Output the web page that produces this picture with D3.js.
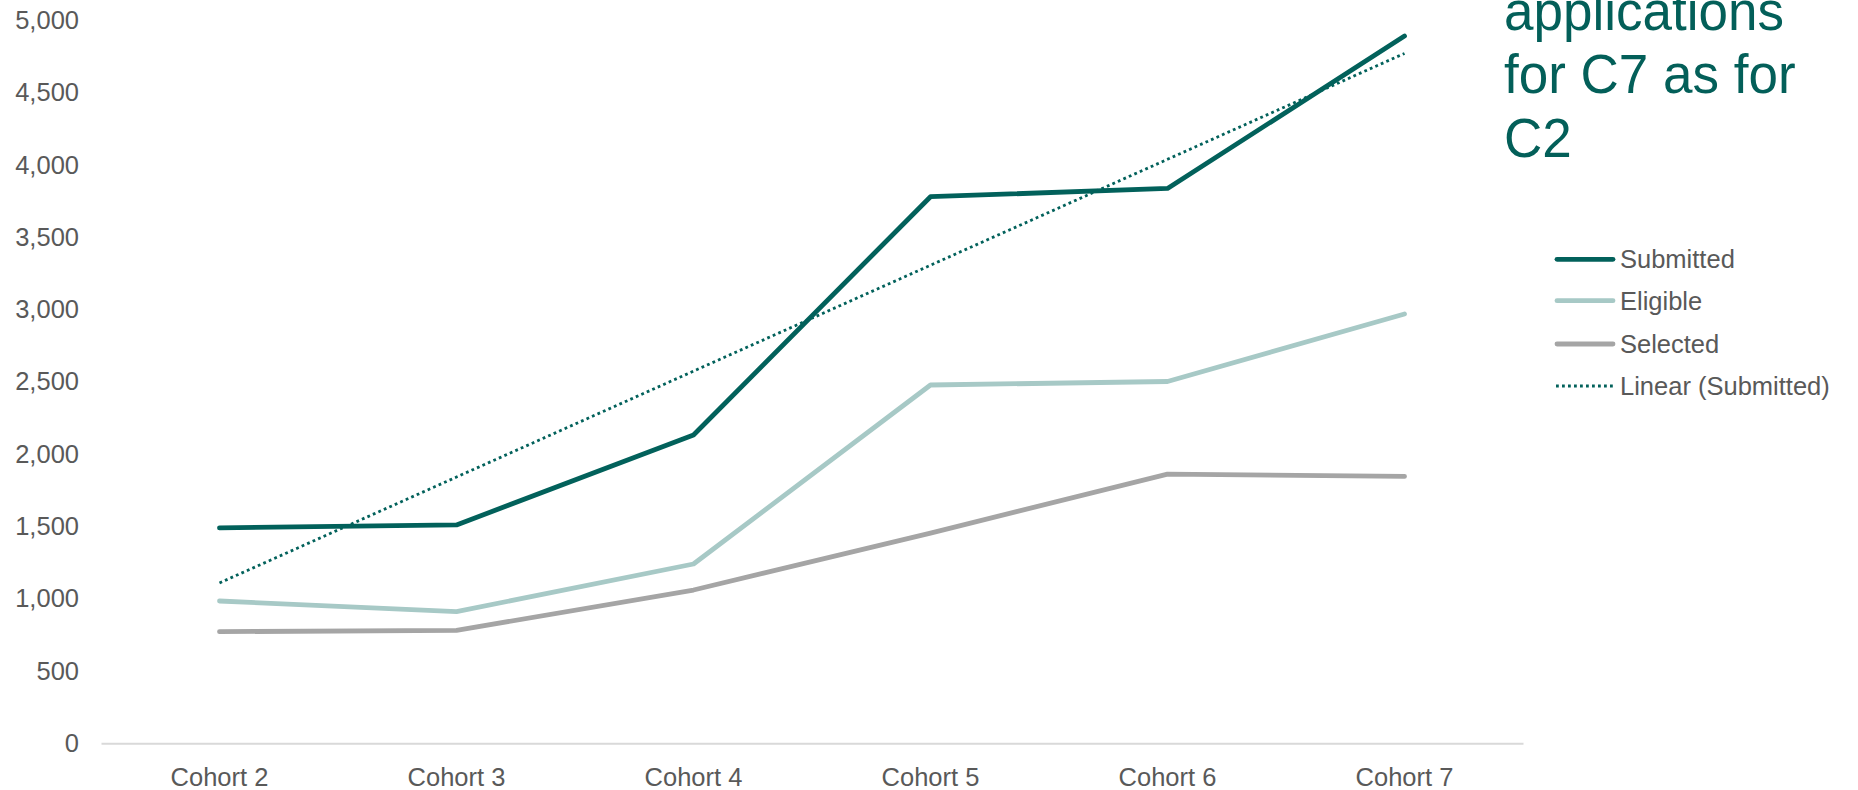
<!DOCTYPE html>
<html><head><meta charset="utf-8">
<script src="https://cdn.jsdelivr.net/npm/d3@7"></script>
<style>
html,body{margin:0;padding:0;background:#fff;}
svg{display:block;font-family:"Liberation Sans",Arial,sans-serif;}
</style></head>
<body>
<svg id="chart" width="1858" height="790"></svg>
<script>
const categories = ["Cohort 2","Cohort 3","Cohort 4","Cohort 5","Cohort 6","Cohort 7"];
const submitted = [1490, 1510, 2132, 3780, 3837, 4891];
const eligible  = [984, 911, 1240, 2478, 2502, 2969];
const selected  = [772, 781, 1060, 1454, 1862, 1846];
const yTicks = [0,500,1000,1500,2000,2500,3000,3500,4000,4500,5000];
const seriesNames = ["Submitted","Eligible","Selected","Linear (Submitted)"];
const titleLines = ["applications","for C7 as for","C2"];

const svg = d3.select("#chart");
const x = d3.scaleBand().domain(categories).range([101, 1523]);
const y = d3.scaleLinear().domain([0,5000]).range([743.3, 20.3]);
const cx = d => x(d) + x.bandwidth()/2;

// x axis line
const xAxis = d3.axisBottom(x).tickSize(0).tickPadding(0);
const gx = svg.append("g").attr("transform","translate(0,743.3)").call(xAxis);
gx.select(".domain").attr("stroke","#D9D9D9").attr("stroke-width",2);
gx.selectAll("text").attr("fill","#595959").attr("font-size",25.5)
  .attr("dy",null).attr("y",43).style("font-family","'Liberation Sans',Arial,sans-serif");

// y axis labels
const yAxis = d3.axisLeft(y).tickValues(yTicks).tickSize(0).tickPadding(0).tickFormat(d3.format(","));
const gy = svg.append("g").attr("transform","translate(79,0)").call(yAxis);
gy.select(".domain").remove();
gy.selectAll("text").attr("fill","#595959").attr("font-size",25.5)
  .style("font-family","'Liberation Sans',Arial,sans-serif");

const line = d3.line().x((d,i)=>cx(categories[i])).y(d=>y(d));

// series
const series = [
  {name:"Selected", values:selected, color:"#A5A5A5", w:4.8},
  {name:"Eligible", values:eligible, color:"#A7C9C6", w:4.8},
  {name:"Submitted", values:submitted, color:"#02615B", w:4.8}
];
series.forEach(s=>{
  svg.append("path").datum(s.values).attr("d",line)
    .attr("fill","none").attr("stroke",s.color).attr("stroke-width",s.w)
    .attr("stroke-linecap","round").attr("stroke-linejoin","round");
});

// linear trend of Submitted (least squares)
const xs = categories.map((c,i)=>i+1);
const mx = d3.mean(xs), my = d3.mean(submitted);
const slope = d3.sum(xs.map((v,i)=>(v-mx)*(submitted[i]-my))) / d3.sum(xs.map(v=>(v-mx)*(v-mx)));
const icpt = my - slope*mx;
const trend = xs.map(v=>icpt + slope*v);
svg.append("path").datum(trend).attr("d",line)
  .attr("fill","none").attr("stroke","#02615B").attr("stroke-width",2.8)
  .attr("stroke-dasharray","2.8 3.2");

// legend
const legendColors = ["#02615B","#A7C9C6","#A5A5A5","#02615B"];
const legendY = [259.3,300.7,344,386];
const lg = svg.append("g");
seriesNames.forEach((n,i)=>{
  const g = lg.append("g").attr("transform",`translate(0,${legendY[i]})`);
  if(i<3){
    g.append("line").attr("x1",1557).attr("x2",1613).attr("y1",0).attr("y2",0)
      .attr("stroke",legendColors[i]).attr("stroke-width",4.8).attr("stroke-linecap","round");
  } else {
    g.append("line").attr("x1",1556).attr("x2",1613).attr("y1",0).attr("y2",0)
      .attr("stroke",legendColors[i]).attr("stroke-width",2.8).attr("stroke-dasharray","2.8 3.2");
  }
  g.append("text").attr("x",1620).attr("y",0).attr("dy","0.35em")
    .attr("fill","#595959").attr("font-size",25.5).text(n);
});

// title (partially visible, cut at top edge as in the reference)
const tg = svg.append("g");
titleLines.forEach((t,i)=>{
  tg.append("text").attr("transform",`translate(1504,${30 + i*63.3}) scale(1,1.06)`)
    .attr("fill","#035F59").attr("font-size",53).text(t);
});
</script>
</body></html>
